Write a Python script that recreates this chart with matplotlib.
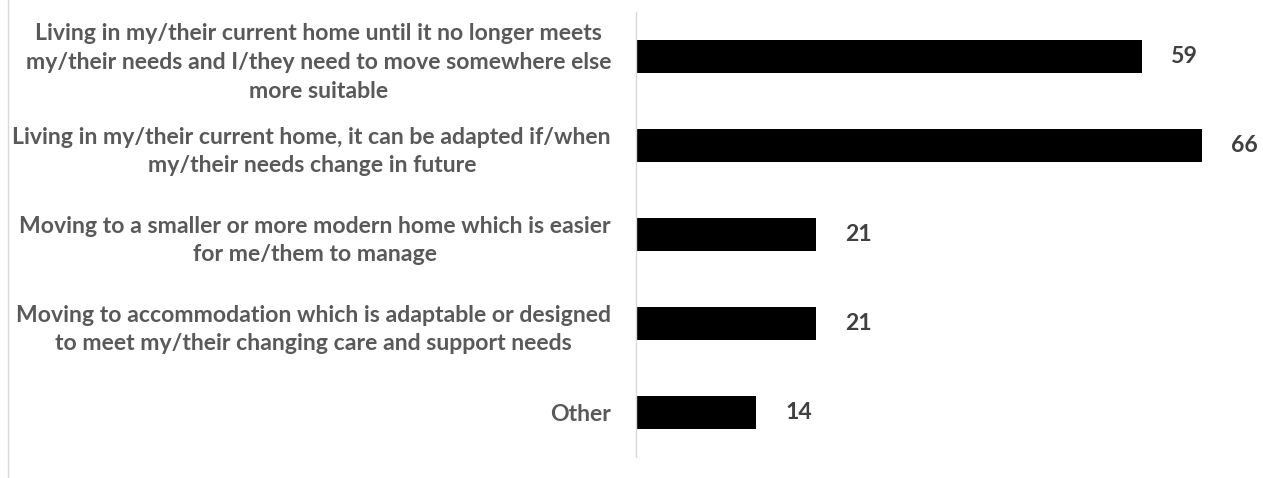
import matplotlib.pyplot as plt
from matplotlib.lines import Line2D

categories = [
    "Living in my/their current home until it no longer meets\nmy/their needs and I/they need to move somewhere else\nmore suitable",
    "Living in my/their current home, it can be adapted if/when\nmy/their needs change in future",
    "Moving to a smaller or more modern home which is easier\nfor me/them to manage",
    "Moving to accommodation which is adaptable or designed\nto meet my/their changing care and support needs",
    "Other",
]
values = [59, 66, 21, 21, 14]

label_col = "#595959"
value_col = "#404040"
grid_col = "#d9d9d9"

plt.rcParams['font.family'] = ['Lato', 'DejaVu Sans']

W, H = 1263, 478
fig = plt.figure(figsize=(W / 100, H / 100), dpi=100)
ax = fig.add_axes([636 / W, 21 / H, 614 / W, 445 / H])

pos = list(range(len(values)))
ax.barh(pos, values, height=0.375, color="black")
ax.set_ylim(len(values) - 0.5, -0.5)
ax.set_xlim(0, 614 / 8.58)

ax.set_yticks(pos)
ax.set_yticklabels(categories, fontsize=16.6, fontweight="bold", color=label_col,
                   multialignment="center", linespacing=1.47)
ax.tick_params(axis="y", length=0, pad=18)
ax.set_xticks([])

for s in ["top", "right", "bottom"]:
    ax.spines[s].set_visible(False)
ax.spines["left"].set_color(grid_col)
ax.spines["left"].set_linewidth(1)

for y, v in zip(pos, values):
    ax.text(v + 3.4, y, str(v), va="center", ha="left", fontsize=16.6,
            fontweight="bold", color=value_col)

# thin frame line along the left edge
fig.add_artist(Line2D([7.5 / W, 7.5 / W], [0, 1], transform=fig.transFigure,
                      color=grid_col, lw=1))

fig.savefig("out.png", dpi=100)
